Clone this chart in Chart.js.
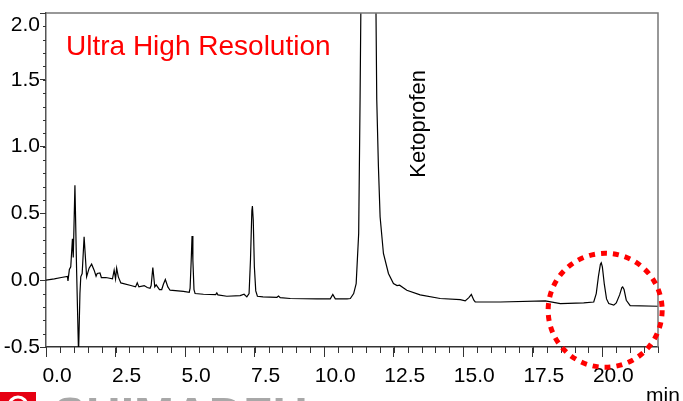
<!DOCTYPE html>
<html lang="en">
<head>
  <meta charset="UTF-8" />
  <title>Ultra High Resolution - Ketoprofen</title>
  <script src="https://cdn.jsdelivr.net/npm/chart.js"></script>
  <style>
    html, body {
      margin: 0;
      padding: 0;
      background: #fff;
    }
    #chart {
      display: block;
    }
  </style>
</head>
<body>
  <canvas id="chart" width="683" height="401"></canvas>

  <script>
    // retention time (min) and detector response
    const retentionTimes = [
      0.00, 0.30, 0.55, 0.77, 0.79, 0.84, 0.89, 0.95, 0.98, 1.04,
      1.10, 1.17, 1.22, 1.25, 1.30, 1.37, 1.46, 1.55, 1.64, 1.73,
      1.80, 1.84, 1.94, 1.99, 2.15, 2.39, 2.45, 2.50, 2.54, 2.60,
      2.69, 3.05, 3.22, 3.28, 3.34, 3.53, 3.64, 3.74, 3.78, 3.84,
      3.91, 3.96, 4.08, 4.16, 4.22, 4.29, 4.38, 4.46, 4.94, 5.15,
      5.18, 5.22, 5.25, 5.28, 5.32, 5.36, 5.66, 6.10, 6.14, 6.18,
      6.50, 6.98, 7.12, 7.22, 7.30, 7.35, 7.40, 7.42, 7.45, 7.49,
      7.54, 7.60, 7.80, 8.30, 8.36, 8.42, 8.78, 9.74, 10.22, 10.31,
      10.40, 10.82, 10.94, 11.06, 11.15, 11.24, 11.29, 11.33, 11.45, 11.60,
      11.75, 11.85, 11.89, 11.95, 12.01, 12.13, 12.31, 12.49, 12.62, 12.71,
      12.97, 13.45, 14.17, 14.89, 15.07, 15.20, 15.29, 15.38, 15.43, 16.33,
      17.95, 18.49, 19.33, 19.69, 19.78, 19.86, 19.93, 19.96, 20.00, 20.07,
      20.15, 20.23, 20.41, 20.50, 20.62, 20.70, 20.73, 20.78, 20.86, 21.00,
      22.00
    ];
    const absorbance = [
      0.000, 0.010, 0.020, 0.028, -0.005, 0.080, 0.100, 0.310, 0.170, 0.710,
      0.075, -0.550, -0.100, 0.025, 0.050, 0.325, 0.025, 0.090, 0.120, 0.075,
      0.030, 0.050, 0.055, 0.020, 0.020, 0.010, 0.075, 0.010, 0.090, 0.025,
      -0.020, -0.040, -0.050, -0.020, -0.050, -0.040, -0.055, -0.060, -0.040, 0.095,
      -0.050, -0.035, -0.070, -0.070, -0.030, 0.005, -0.050, -0.075, -0.083, -0.090,
      -0.060, 0.150, 0.330, 0.150, -0.070, -0.100, -0.105, -0.108, -0.095, -0.110,
      -0.120, -0.115, -0.105, -0.125, -0.100, 0.150, 0.520, 0.555, 0.450, 0.100,
      -0.080, -0.120, -0.125, -0.128, -0.118, -0.130, -0.137, -0.140, -0.140, -0.107,
      -0.140, -0.140, -0.137, -0.100, -0.025, 0.350, 1.350, 2.300, 4.500, 5.500,
      4.500, 2.300, 1.350, 0.850, 0.475, 0.200, 0.050, -0.025, -0.040, -0.037,
      -0.075, -0.110, -0.137, -0.145, -0.155, -0.130, -0.107, -0.150, -0.163, -0.163,
      -0.155, -0.175, -0.170, -0.163, -0.100, 0.030, 0.120, 0.130, 0.100, -0.030,
      -0.140, -0.175, -0.187, -0.170, -0.110, -0.055, -0.050, -0.070, -0.150, -0.190,
      -0.195
    ];

    const xTickValues = [0, 2.5, 5, 7.5, 10, 12.5, 15, 17.5, 20];
    const yTickValues = [-0.5, 0, 0.5, 1.0, 1.5, 2.0];
    const xMinorStep = 0.5;
    const yMinorStep = 0.1;

    const titleText = 'Ultra High Resolution';
    const peakLabel = { text: 'Ketoprofen', x: 13.4, y: 1.17 };
    const highlight = { x: 20.1, y: -0.225, radius: 57 };

    const points = retentionTimes.map((t, i) => ({ x: t, y: absorbance[i] }));

    const fontFamily = '"Liberation Sans", Arial, sans-serif';
    const yMax = yTickValues[yTickValues.length - 1];

    const decorations = {
      id: 'decorations',
      afterDraw(chart) {
        const { ctx, chartArea: a, scales: { x, y } } = chart;
        ctx.save();

        // top and right frame
        ctx.strokeStyle = '#777';
        ctx.lineWidth = 1.5;
        ctx.beginPath();
        ctx.moveTo(a.left, a.top);
        ctx.lineTo(a.right, a.top);
        ctx.lineTo(a.right, a.bottom);
        ctx.stroke();

        // minor ticks
        ctx.strokeStyle = '#333';
        ctx.lineWidth = 1;
        ctx.beginPath();
        for (let v = x.min; v <= x.max + 1e-9; v += xMinorStep) {
          const px = Math.round(x.getPixelForValue(v)) + 0.5;
          ctx.moveTo(px, a.bottom);
          ctx.lineTo(px, a.bottom + 6);
        }
        for (let v = y.min; v <= y.max + 1e-9; v += yMinorStep) {
          const py = Math.round(y.getPixelForValue(v)) + 0.5;
          ctx.moveTo(a.left, py);
          ctx.lineTo(a.left - 3, py);
        }
        ctx.stroke();

        // top y label sits just below the frame corner
        ctx.fillStyle = '#000';
        ctx.font = '21px ' + fontFamily;
        ctx.textAlign = 'right';
        ctx.textBaseline = 'middle';
        ctx.fillText(yMax.toFixed(1), a.left - 6, y.getPixelForValue(yMax) + 12);

        // title
        ctx.fillStyle = '#ff0000';
        ctx.font = '28px ' + fontFamily;
        ctx.textAlign = 'left';
        ctx.textBaseline = 'alphabetic';
        ctx.fillText(titleText, a.left + 20, a.top + 42);

        // peak name
        ctx.save();
        ctx.translate(x.getPixelForValue(peakLabel.x), y.getPixelForValue(peakLabel.y));
        ctx.rotate(-Math.PI / 2);
        ctx.fillStyle = '#000';
        ctx.font = '22px ' + fontFamily;
        ctx.textAlign = 'center';
        ctx.textBaseline = 'middle';
        ctx.fillText(peakLabel.text, 0, 0);
        ctx.restore();

        // dotted circle around the late peaks
        ctx.strokeStyle = '#ff0000';
        ctx.lineWidth = 5;
        ctx.setLineDash([6, 6]);
        ctx.beginPath();
        ctx.arc(x.getPixelForValue(highlight.x), y.getPixelForValue(highlight.y), highlight.radius, 0, Math.PI * 2);
        ctx.stroke();
        ctx.setLineDash([]);

        // axis unit
        ctx.fillStyle = '#000';
        ctx.font = '21px ' + fontFamily;
        ctx.textAlign = 'left';
        ctx.textBaseline = 'alphabetic';
        ctx.fillText('min', a.right - 12, chart.height + 1);

        // logo strip at the bottom
        ctx.fillStyle = '#e60012';
        ctx.fillRect(0, 392, 36, 10);
        ctx.strokeStyle = '#fff';
        ctx.lineWidth = 3;
        ctx.beginPath();
        ctx.arc(18, 406, 9, Math.PI, Math.PI * 2);
        ctx.stroke();
        ctx.fillStyle = '#a8a8a8';
        ctx.font = 'bold 48px ' + fontFamily;
        ctx.fillText('SHIMADZU', 54, 431);

        ctx.restore();
      }
    };

    new Chart(document.getElementById('chart'), {
      type: 'line',
      data: {
        datasets: [{
          data: points,
          borderColor: '#000',
          borderWidth: 1.2,
          pointRadius: 0,
          tension: 0,
          fill: false
        }]
      },
      options: {
        responsive: false,
        animation: false,
        devicePixelRatio: 1,
        layout: { padding: { top: 13, right: 25, left: 0, bottom: 0 } },
        plugins: {
          legend: { display: false },
          tooltip: { enabled: false }
        },
        scales: {
          x: {
            type: 'linear',
            min: 0,
            max: 22,
            afterFit: scale => { scale.height = 54; },
            afterBuildTicks: scale => { scale.ticks = xTickValues.map(v => ({ value: v })); },
            border: { display: true, color: '#333', width: 1.5 },
            grid: { drawOnChartArea: false, drawTicks: true, tickLength: 10, tickColor: '#333' },
            ticks: {
              padding: 7,
              labelOffset: 11,
              maxRotation: 0,
              color: '#000',
              font: { family: fontFamily, size: 21 },
              callback: v => v.toFixed(1)
            }
          },
          y: {
            min: -0.5,
            max: yMax,
            afterFit: scale => { scale.width = 46; },
            afterBuildTicks: scale => { scale.ticks = yTickValues.map(v => ({ value: v })); },
            border: { display: true, color: '#555', width: 1.5 },
            grid: { drawOnChartArea: false, drawTicks: true, tickLength: 6, tickColor: '#333' },
            ticks: {
              padding: 0,
              color: '#000',
              font: { family: fontFamily, size: 21 },
              callback: v => (v === yMax ? '' : v.toFixed(1))
            }
          }
        }
      },
      plugins: [decorations]
    });
  </script>
</body>
</html>
